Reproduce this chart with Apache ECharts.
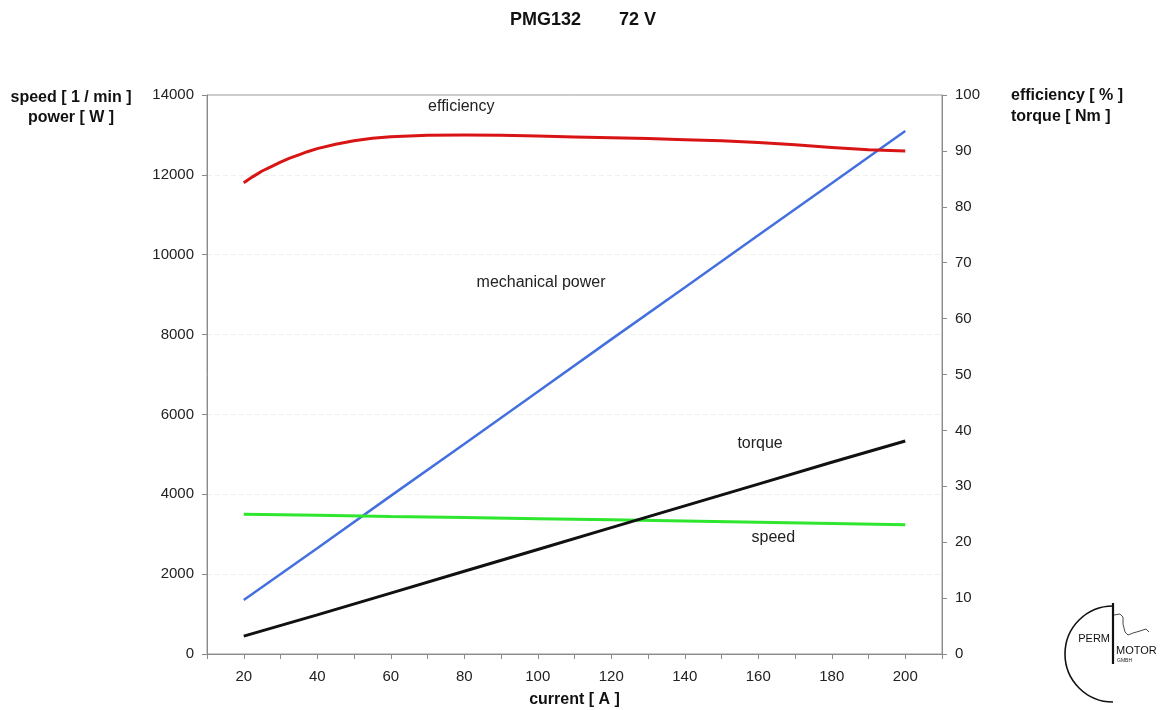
<!DOCTYPE html>
<html>
<head>
<meta charset="utf-8">
<title>PMG132 72 V</title>
<script src="https://cdn.jsdelivr.net/npm/echarts@6/dist/echarts.min.js"></script>
<style>
  html, body { margin: 0; padding: 0; background: #fff; }
  #chart { width: 1166px; height: 710px; }
</style>
</head>
<body>
<div id="chart"></div>
<script>
// Motor characteristic of the PMG132 at 72 V, plotted against current [A]
const currentA = [20, 40, 60, 80, 100, 120, 140, 160, 180, 200];

// left axis: speed [1/min] and mechanical power [W]
const powerW = [1350, 2650, 3960, 5260, 6570, 7880, 9180, 10490, 11790, 13100];
const speedRpm = [3500, 3475, 3445, 3420, 3390, 3360, 3330, 3300, 3270, 3240];

// right axis: efficiency [%] and torque [Nm]
const torqueNm = [3.2, 7.0, 10.9, 14.8, 18.7, 22.6, 26.5, 30.4, 34.3, 38.1];
const effCurrentA = [20, 22.5, 25, 27.5, 30, 32.5, 35, 37.5, 40, 45, 50, 55, 60, 70, 80, 90, 100, 110, 120, 130, 140, 150, 160, 170, 180, 190, 200];
const efficiencyPct = [84.3, 85.4, 86.4, 87.2, 88.0, 88.7, 89.3, 89.9, 90.4, 91.2, 91.8, 92.25, 92.55, 92.8, 92.85, 92.8, 92.65, 92.5, 92.35, 92.2, 92.0, 91.8, 91.5, 91.1, 90.6, 90.2, 90.0];

// axis ranges and ticks
const xRange = [10, 210];
const leftRange = [0, 14000];
const rightRange = [0, 100];

const pairs = (xs, ys) => xs.map((x, i) => [x, ys[i]]);

const FONT = '"Liberation Sans", Arial, sans-serif';

function curveLabel(text, coord) {
  return {
    symbol: 'circle',
    symbolSize: 1,
    silent: true,
    itemStyle: { color: 'rgba(0,0,0,0)' },
    label: { show: true, position: 'inside', formatter: text, fontFamily: FONT, fontSize: 16, color: '#222' },
    data: [{ coord: coord }]
  };
}

const chart = echarts.init(document.getElementById('chart'), null, { renderer: 'canvas' });

chart.setOption({
  animation: false,
  backgroundColor: '#fff',
  grid: {
    left: 207, right: 224, top: 95, bottom: 56,
    outerBoundsMode: 'none',
    containLabel: false,
    show: true, borderColor: '#9a9a9a', borderWidth: 1, backgroundColor: 'transparent'
  },
  xAxis: {
    type: 'value',
    min: xRange[0], max: xRange[1], interval: 10,
    name: 'current [ A ]',
    nameLocation: 'middle',
    nameGap: 38,
    nameTextStyle: { fontFamily: FONT, fontWeight: 'bold', fontSize: 16, color: '#111' },
    axisLine: { lineStyle: { color: '#8a8a8a' } },
    axisTick: { show: true, length: 5, lineStyle: { color: '#8a8a8a' } },
    axisLabel: {
      margin: 15, fontFamily: FONT, fontSize: 15, color: '#222',
      formatter: v => (v % 20 === 0 ? String(v) : '')
    },
    splitLine: { show: false }
  },
  yAxis: [
    {
      type: 'value',
      min: leftRange[0], max: leftRange[1], interval: 2000,
      position: 'left',
      axisLine: { show: true, lineStyle: { color: '#8a8a8a' } },
      axisTick: { show: true, length: 5, lineStyle: { color: '#8a8a8a' } },
      axisLabel: { margin: 13, fontFamily: FONT, fontSize: 15, color: '#222', formatter: v => String(v) },
      splitLine: { show: true, showMinLine: false, showMaxLine: false, lineStyle: { color: '#efefef', type: [5, 3] } }
    },
    {
      type: 'value',
      min: rightRange[0], max: rightRange[1], interval: 10,
      position: 'right',
      axisLine: { show: true, lineStyle: { color: '#8a8a8a' } },
      axisTick: { show: true, length: 5, lineStyle: { color: '#8a8a8a' } },
      axisLabel: { margin: 13, fontFamily: FONT, fontSize: 15, color: '#222' },
      splitLine: { show: false }
    }
  ],
  series: [
    {
      name: 'mechanical power', type: 'line', yAxisIndex: 0,
      data: pairs(currentA, powerW), showSymbol: false, symbol: 'none',
      lineStyle: { color: '#4470df', width: 2.5 }, itemStyle: { color: '#4470df' },
      markPoint: curveLabel('mechanical power', [100.9, 9290])
    },
    {
      name: 'speed', type: 'line', yAxisIndex: 0,
      data: pairs(currentA, speedRpm), showSymbol: false, symbol: 'none',
      lineStyle: { color: '#2ee62e', width: 3 }, itemStyle: { color: '#2ee62e' },
      markPoint: curveLabel('speed', [164.1, 2905])
    },
    {
      name: 'torque', type: 'line', yAxisIndex: 1,
      data: pairs(currentA, torqueNm), showSymbol: false, symbol: 'none',
      lineStyle: { color: '#111111', width: 3 }, itemStyle: { color: '#111111' },
      markPoint: curveLabel('torque', [160.5, 37.6])
    },
    {
      name: 'efficiency', type: 'line', yAxisIndex: 1,
      data: pairs(effCurrentA, efficiencyPct), showSymbol: false, symbol: 'none',
      lineStyle: { color: '#d91414', width: 3, join: 'round' }, itemStyle: { color: '#d91414' },
      markPoint: curveLabel('efficiency', [79.2, 97.9])
    }
  ],
  graphic: [
    // heading: motor type and supply voltage
    { type: 'text', style: { text: 'PMG132', x: 510, y: 20, align: 'left', verticalAlign: 'middle', fontFamily: FONT, fontWeight: 'bold', fontSize: 18, fill: '#111' } },
    { type: 'text', style: { text: '72 V', x: 619, y: 20, align: 'left', verticalAlign: 'middle', fontFamily: FONT, fontWeight: 'bold', fontSize: 18, fill: '#111' } },
    // axis captions
    { type: 'text', style: { text: 'speed [ 1 / min ]\npower [ W ]', x: 71, y: 88, align: 'center', fontFamily: FONT, fontWeight: 'bold', fontSize: 16, lineHeight: 20, fill: '#111' } },
    { type: 'text', style: { text: 'efficiency [ % ]\ntorque [ Nm ]', x: 1011, y: 85, align: 'left', fontFamily: FONT, fontWeight: 'bold', fontSize: 16, lineHeight: 21, fill: '#111' } },
    // company logo
    { type: 'arc', shape: { cx: 1113, cy: 654, r: 48, startAngle: Math.PI / 2, endAngle: Math.PI * 1.5, clockwise: true }, style: { stroke: '#111', lineWidth: 1.6, fill: 'none' } },
    { type: 'line', shape: { x1: 1113, y1: 603, x2: 1113, y2: 664 }, style: { stroke: '#111', lineWidth: 2.2 } },
    { type: 'polyline', shape: { points: [[1114, 615], [1120, 614], [1123, 617], [1123, 624], [1125, 632], [1128, 635], [1133, 633], [1140, 631], [1146, 629], [1149, 632]] }, style: { stroke: '#333', lineWidth: 0.9, fill: 'none' } },
    { type: 'text', style: { text: 'PERM', x: 1110, y: 639, align: 'right', verticalAlign: 'middle', fontFamily: FONT, fontSize: 11, fill: '#111' } },
    { type: 'text', style: { text: 'MOTOR', x: 1116, y: 651, align: 'left', verticalAlign: 'middle', fontFamily: FONT, fontSize: 11, fill: '#111' } },
    { type: 'text', style: { text: 'GMBH', x: 1117, y: 661, align: 'left', verticalAlign: 'middle', fontFamily: FONT, fontSize: 5, fill: '#222' } }
  ]
});
</script>
</body>
</html>
